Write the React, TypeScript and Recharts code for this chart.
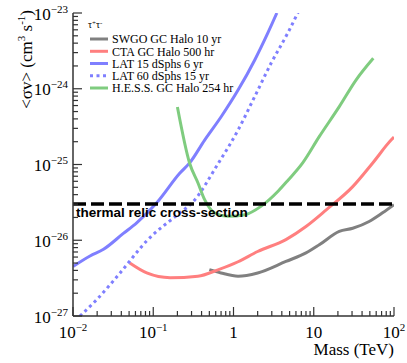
import React from 'react';
import { LineChart, Line, XAxis, YAxis, ReferenceLine } from 'recharts';

// tau+ tau- channel, sensitivity curves (mass in TeV, <sigma v> in cm^3 s^-1)
const swgoMass = [0.5, 0.7, 1.14, 2.0, 4.5, 8.0, 11.7, 20.8, 30.6, 49, 72, 100];
const swgoSigma = [4.1e-27, 3.7e-27, 3.35e-27, 3.7e-27, 5.25e-27, 6.8e-27, 8.7e-27, 1.31e-26, 1.44e-26, 1.77e-26, 2.3e-26, 2.95e-26];

const ctaMass = [0.051, 0.083, 0.162, 0.36, 0.64, 1.14, 2.0, 4.5, 8.0, 14.2, 30.6, 54, 92, 100];
const ctaSigma = [5.0e-27, 3.7e-27, 3.2e-27, 3.35e-27, 4.07e-27, 5.2e-27, 7.1e-27, 1.02e-26, 1.52e-26, 2.5e-26, 5.1e-26, 1.04e-25, 2.1e-25, 2.3e-25];

const lat15Mass = [0.01, 0.0163, 0.024, 0.0424, 0.0622, 0.11, 0.215, 0.284, 0.437, 0.705, 1.14, 1.84, 2.69, 3.47];
const lat15Sigma = [4.5e-27, 6.2e-27, 7.6e-27, 1.23e-26, 1.7e-26, 3.1e-26, 7.7e-26, 1.05e-25, 2.1e-25, 4.3e-25, 9.6e-25, 2.4e-24, 5.5e-24, 1.0e-23];

const lat60Mass = [0.0122, 0.0197, 0.0386, 0.0829, 0.215, 0.304, 0.641, 1.14, 1.84, 2.96, 4.77, 6.6];
const lat60Sigma = [1e-27, 1.64e-27, 3.7e-27, 9.8e-27, 2.3e-26, 3.1e-26, 1.02e-25, 2.85e-25, 7.9e-25, 2.2e-24, 5.5e-24, 1.1e-23];

const hessMass = [0.2, 0.284, 0.361, 0.437, 0.583, 0.853, 1.38, 2.22, 3.59, 4.78, 7.28, 11.7, 20.8, 33.6, 55.2];
const hessSigma = [5.75e-25, 1.04e-25, 5.7e-26, 3.43e-26, 2.29e-26, 2.07e-26, 2.17e-26, 2.82e-26, 4.43e-26, 6.2e-26, 1.05e-25, 2.33e-25, 5.8e-25, 1.3e-24, 2.52e-24];

const thermalRelic = 3e-26;

const xMajorTicks = [0.01, 0.1, 1, 10, 100];
const xTickLabels = [['10', '−2'], ['10', '−1'], ['1', ''], ['10', ''], ['10', '2']];
const yMajorTicks = [1e-27, 1e-26, 1e-25, 1e-24, 1e-23];
const yTickLabels = [['10', '−27'], ['10', '−26'], ['10', '−25'], ['10', '−24'], ['10', '−23']];

const SERIF = '"Liberation Serif", "Times New Roman", serif';
const SANS = '"Liberation Sans", Arial, sans-serif';
const FRAME = '#333';

const withMinor = (majors: number[]) => {
  const out: number[] = [];
  majors.forEach((m, i) => {
    out.push(m);
    if (i < majors.length - 1) for (let k = 2; k <= 9; k++) out.push(m * k);
  });
  return out;
};

const xTicks = withMinor(xMajorTicks);
const yTicks = withMinor(yMajorTicks);

const majorIndex = (list: number[], v: number) =>
  list.findIndex((t) => Math.abs(Math.log10(t) - Math.log10(v)) < 1e-6);

const toPoints = (mass: number[], sigma: number[]) => mass.map((m, i) => ({ mass: m, sigma: sigma[i] }));

const series = [
  { name: 'SWGO GC Halo 10 yr', data: toPoints(swgoMass, swgoSigma), color: '#808080', dash: undefined },
  { name: 'CTA GC Halo 500 hr', data: toPoints(ctaMass, ctaSigma), color: '#ff7f7f', dash: undefined },
  { name: 'LAT 15 dSphs 6 yr', data: toPoints(lat15Mass, lat15Sigma), color: '#7f7fff', dash: undefined },
  { name: 'LAT 60 dSphs 15 yr', data: toPoints(lat60Mass, lat60Sigma), color: '#7f7fff', dash: '3 3.5' },
  { name: 'H.E.S.S. GC Halo 254 hr', data: toPoints(hessMass, hessSigma), color: '#7fcc7f', dash: undefined },
];

const makeXTick = (side: 'bottom' | 'top') => (props: any) => {
  const { x, y, payload } = props;
  const i = majorIndex(xMajorTicks, payload.value);
  const len = i >= 0 ? 9 : 5;
  const dir = side === 'bottom' ? -1 : 1;
  return (
    <g>
      <line x1={x} x2={x} y1={y} y2={y + dir * len} stroke={FRAME} strokeWidth={1.2} />
      {side === 'bottom' && i >= 0 && (
        <text x={x} y={y + 22} textAnchor="middle" fontFamily={SERIF} fontSize={17} fill="#000">
          {xTickLabels[i][0]}
          {xTickLabels[i][1] && (
            <tspan dy={-7} fontSize={11}>
              {xTickLabels[i][1]}
            </tspan>
          )}
        </text>
      )}
    </g>
  );
};

const makeYTick = (side: 'left' | 'right') => (props: any) => {
  const { x, y, payload } = props;
  const i = majorIndex(yMajorTicks, payload.value);
  const len = i >= 0 ? 9 : 5;
  const dir = side === 'left' ? 1 : -1;
  return (
    <g>
      <line x1={x} x2={x + dir * len} y1={y} y2={y} stroke={FRAME} strokeWidth={1.2} />
      {side === 'left' && i >= 0 && (
        <text x={x - 5} y={y + 6.5} textAnchor="end" fontFamily={SERIF} fontSize={17} fill="#000">
          {yTickLabels[i][0]}
          <tspan dy={-7} fontSize={11}>
            {yTickLabels[i][1]}
          </tspan>
        </text>
      )}
    </g>
  );
};

const ThermalLabel = (props: any) => {
  const vb = props.viewBox || { x: 73, y: 203 };
  return (
    <text x={vb.x + 3} y={vb.y + 13} fontFamily={SANS} fontWeight="bold" fontSize={13.5} fill="#000">
      thermal relic cross-section
    </text>
  );
};

const Overlay = () => {
  const rows = [39, 51.3, 63.5, 75.7, 88];
  return (
    <g>
      <text x={88} y={28} fontFamily={SERIF} fontSize={10} fill="#000">
        τ<tspan dy={-3} fontSize={7}>+</tspan>
        <tspan dy={3} fontSize={10}>τ</tspan>
        <tspan dy={-3} fontSize={7}>-</tspan>
      </text>
      {series.map((s, i) => (
        <g key={s.name}>
          <line x1={90} x2={108} y1={rows[i]} y2={rows[i]} stroke={s.color} strokeWidth={3} strokeDasharray={s.dash} />
          <text x={112} y={rows[i] + 4.2} fontFamily={SERIF} fontSize={12} fill="#000">
            {s.name}
          </text>
        </g>
      ))}
      <text transform="rotate(-90, 32, 10)" x={32} y={10} textAnchor="end" fontFamily={SERIF} fontSize={17} fill="#000">
        {'<σv> (cm'}
        <tspan dy={-7} fontSize={11}>3</tspan>
        <tspan dy={7} fontSize={17}>{' s'}</tspan>
        <tspan dy={-7} fontSize={11}>-1</tspan>
        <tspan dy={7} fontSize={17}>)</tspan>
      </text>
      <text x={394} y={355} textAnchor="end" fontFamily={SERIF} fontSize={17} fill="#000">
        Mass (TeV)
      </text>
    </g>
  );
};

const App: React.FC = () => {
  return (
    <div style={{ position: 'absolute', left: 0, top: 0, background: '#fff' }}>
      <LineChart width={407} height={363} margin={{ top: 13, right: 13, bottom: 0, left: 0 }}>
        <XAxis
          dataKey="mass"
          type="number"
          scale="log"
          domain={[0.01, 100]}
          allowDataOverflow
          ticks={xTicks}
          interval={0}
          height={47}
          tickSize={0}
          tickMargin={0}
          tickLine={false}
          axisLine={{ stroke: FRAME, strokeWidth: 1.5 }}
          tick={makeXTick('bottom')}
        />
        <XAxis
          xAxisId="top"
          orientation="top"
          dataKey="mass"
          type="number"
          scale="log"
          domain={[0.01, 100]}
          allowDataOverflow
          ticks={xTicks}
          interval={0}
          height={0}
          tickSize={0}
          tickMargin={0}
          tickLine={false}
          axisLine={{ stroke: FRAME, strokeWidth: 1.5 }}
          tick={makeXTick('top')}
        />
        <YAxis
          type="number"
          scale="log"
          domain={[1e-27, 1e-23]}
          allowDataOverflow
          ticks={yTicks}
          interval={0}
          width={73}
          tickSize={0}
          tickMargin={0}
          tickLine={false}
          axisLine={{ stroke: FRAME, strokeWidth: 1.5 }}
          tick={makeYTick('left')}
        />
        <YAxis
          yAxisId="right"
          orientation="right"
          type="number"
          scale="log"
          domain={[1e-27, 1e-23]}
          allowDataOverflow
          ticks={yTicks}
          interval={0}
          width={0}
          tickSize={0}
          tickMargin={0}
          tickLine={false}
          axisLine={{ stroke: FRAME, strokeWidth: 1.5 }}
          tick={makeYTick('right')}
        />
        {series.map((s) => (
          <Line
            key={s.name}
            data={s.data}
            dataKey="sigma"
            type="monotone"
            stroke={s.color}
            strokeWidth={3}
            strokeDasharray={s.dash}
            dot={false}
            activeDot={false}
            isAnimationActive={false}
          />
        ))}
        <ReferenceLine
          y={thermalRelic}
          stroke="#000"
          strokeWidth={3.5}
          strokeDasharray="13 5"
          label={<ThermalLabel />}
        />
        <Overlay />
      </LineChart>
    </div>
  );
};

export default App;
